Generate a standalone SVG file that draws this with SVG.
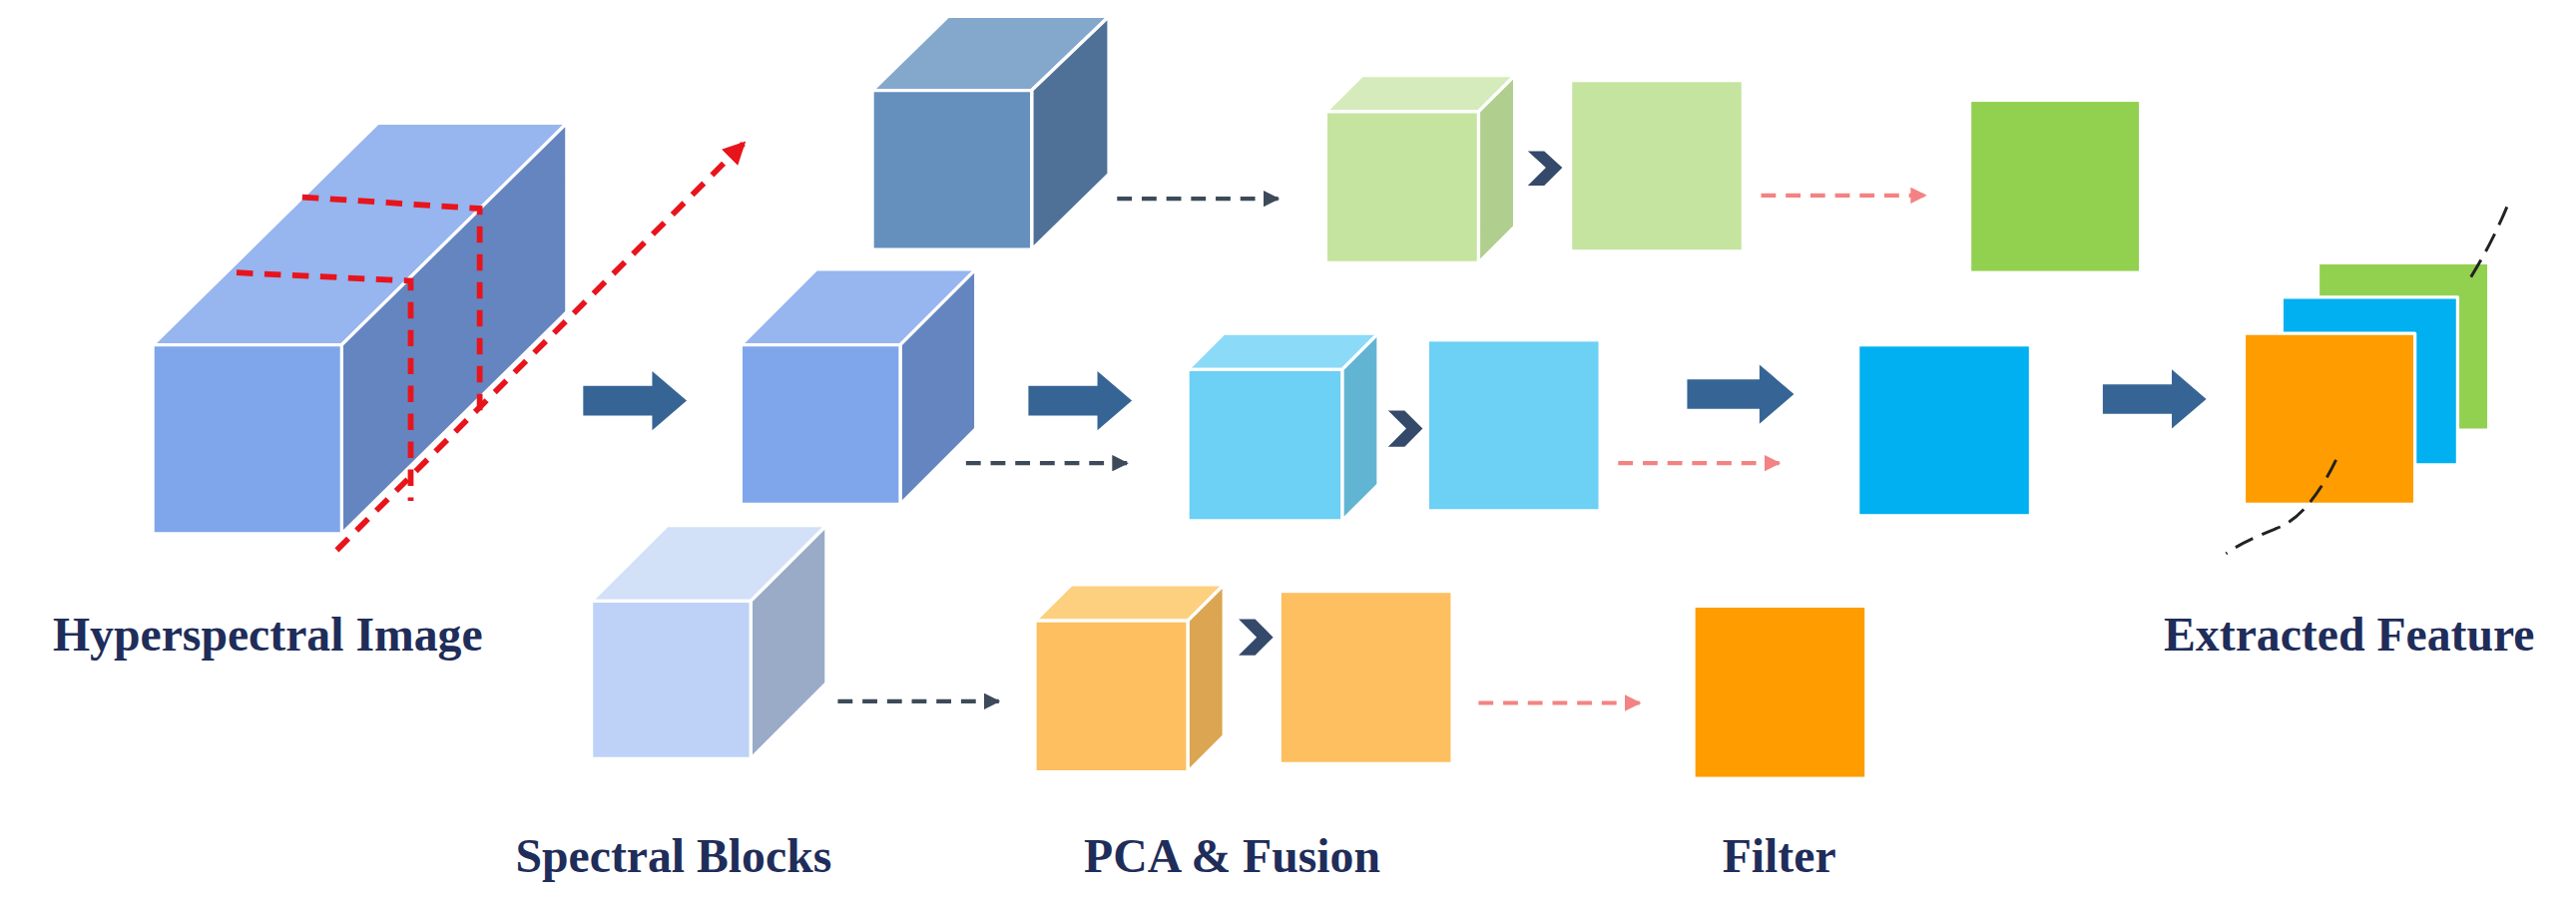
<svg xmlns="http://www.w3.org/2000/svg" width="2581" height="905" viewBox="0 0 2581 905">
<defs>
<style>
.e{stroke:#fff;stroke-width:2;stroke-linejoin:round}
.red{stroke:#e8141c;stroke-width:3.5;stroke-dasharray:10,7;fill:none}
.gd{stroke:#3c4a5a;stroke-width:2.5;stroke-dasharray:9,6;fill:none}
.pd{stroke:#f38383;stroke-width:2.5;stroke-dasharray:9,6;fill:none}
.blk{fill:#366595}
.chev{fill:#35496a}
.lbl{font-family:"Liberation Serif","DejaVu Serif",serif;font-weight:bold;font-size:29px;fill:#1f2d5a;text-anchor:middle}
</style>
<marker id="ag" viewBox="0 0 10 10" refX="9" refY="5" markerWidth="4" markerHeight="4" orient="auto"><path d="M0,0L10,5L0,10z" fill="#3c4a5a"/></marker>
<marker id="ap" viewBox="0 0 10 10" refX="9" refY="5" markerWidth="4" markerHeight="4" orient="auto"><path d="M0,0L10,5L0,10z" fill="#f38383"/></marker>
<marker id="ar" viewBox="0 0 10 10" refX="9" refY="5" markerWidth="4" markerHeight="4" orient="auto"><path d="M0,0L10,5L0,10z" fill="#e8141c"/></marker>
</defs>
<rect width="2581" height="905" fill="#fff"/>
<g transform="scale(1.646)">
<g id="hsi">
<polygon class="e" points="93,210 230,75 345,75 208,210" fill="#97b5ee"/>
<polygon class="e" points="208,210 345,75 345,190 208,325" fill="#6585c0"/>
<rect class="e" x="93" y="210" width="115" height="115" fill="#7fa6ea"/>
<path class="red" d="M144,166 L250,171 L250,305"/>
<path class="red" d="M184,120 L292,127 L292,250"/>
<line class="red" x1="205" y1="335" x2="453" y2="87" marker-end="url(#ar)"/>
</g>
<g id="cube-top">
<polygon class="e" points="531,55 577,10 675,10 628,55" fill="#84a8cc"/>
<polygon class="e" points="628,55 675,10 675,106 628,152" fill="#4f7198"/>
<rect class="e" x="531" y="55" width="97" height="97" fill="#6590bd"/>
</g>
<g id="cube-mid">
<polygon class="e" points="451,210 497,164 594,164 548,210" fill="#97b5ee"/>
<polygon class="e" points="548,210 594,164 594,261 548,307" fill="#6585c0"/>
<rect class="e" x="451" y="210" width="97" height="97" fill="#7fa6ea"/>
</g>
<g id="cube-bot">
<polygon class="e" points="360,366 406,320 503,320 457,366" fill="#d2e0f8"/>
<polygon class="e" points="457,366 503,320 503,416 457,462" fill="#9aabc8"/>
<rect class="e" x="360" y="366" width="97" height="96" fill="#bed2f8"/>
</g>
<g id="pca-green">
<polygon class="e" points="807,68 829,46 922,46 900,68" fill="#d5ebbb"/>
<polygon class="e" points="900,68 922,46 922,138 900,160" fill="#b0cf8e"/>
<rect class="e" x="807" y="68" width="93" height="92" fill="#c5e4a0"/>
<rect x="957" y="50" width="103" height="102" fill="#c5e4a0"/>
</g>
<g id="pca-cyan">
<polygon class="e" points="723,225 745,203 839,203 817,225" fill="#8bdaf7"/>
<polygon class="e" points="817,225 839,203 839,295 817,317" fill="#62b5d2"/>
<rect class="e" x="723" y="225" width="94" height="92" fill="#6dd0f5"/>
<rect x="870" y="208" width="103" height="102" fill="#6dd0f5"/>
</g>
<g id="pca-orange">
<polygon class="e" points="630,378 652,356 745,356 723,378" fill="#fdd080"/>
<polygon class="e" points="723,378 745,356 745,448 723,470" fill="#dba551"/>
<rect class="e" x="630" y="378" width="93" height="92" fill="#fdbf5f"/>
<rect x="780" y="361" width="103" height="103" fill="#fdbf5f"/>
</g>
<g id="filters">
<rect x="1200" y="62" width="102" height="103" fill="#92d050"/>
<rect x="1132" y="211" width="103" height="102" fill="#00b0f0"/>
<rect x="1032" y="370" width="103" height="103" fill="#ff9c00"/>
</g>
<g id="feature">
<rect class="e" x="1411" y="160" width="104" height="102" fill="#92d050"/>
<rect class="e" x="1389" y="181" width="107" height="102" fill="#00b0f0"/>
<rect class="e" x="1366" y="203" width="104" height="104" fill="#ff9c00"/>
<path d="M1526,126 Q1516,150 1502,172" stroke="#222" stroke-width="1.8" stroke-dasharray="12,6" fill="none"/>
<path d="M1422,280 Q1405,315 1385,322 Q1365,330 1355,337" stroke="#222" stroke-width="1.8" stroke-dasharray="12,6" fill="none"/>
</g>
<g id="connectors">
<polygon class="blk" points="355,235 397,235 397,226 418,244 397,262 397,253 355,253"/>
<polygon class="blk" points="626,235 668,235 668,226 689,244 668,262 668,253 626,253"/>
<polygon class="blk" points="1027,231 1071,231 1071,222 1092,240 1071,258 1071,249 1027,249"/>
<polygon class="blk" points="1280,234 1322,234 1322,225 1343,243 1322,261 1322,252 1280,252"/>
<polygon class="chev" points="930,92 940,92 951,102 940,113 930,113 941,102"/>
<polygon class="chev" points="845,250 855,250 866,261 855,272 845,272 856,261"/>
<polygon class="chev" points="754,377 764,377 775,388 764,399 754,399 765,388"/>
<line class="gd" x1="680" y1="121" x2="778" y2="121" marker-end="url(#ag)"/>
<line class="gd" x1="588" y1="282" x2="686" y2="282" marker-end="url(#ag)"/>
<line class="gd" x1="510" y1="427" x2="608" y2="427" marker-end="url(#ag)"/>
<line class="pd" x1="1072" y1="119" x2="1172" y2="119" marker-end="url(#ap)"/>
<line class="pd" x1="985" y1="282" x2="1083" y2="282" marker-end="url(#ap)"/>
<line class="pd" x1="900" y1="428" x2="998" y2="428" marker-end="url(#ap)"/>
</g>
<g id="labels">
<text class="lbl" x="163" y="396">Hyperspectral Image</text>
<text class="lbl" x="410" y="531">Spectral Blocks</text>
<text class="lbl" x="750" y="531">PCA &amp; Fusion</text>
<text class="lbl" x="1083" y="531">Filter</text>
<text class="lbl" x="1430" y="396">Extracted Feature</text>
</g>
</g>
</svg>
